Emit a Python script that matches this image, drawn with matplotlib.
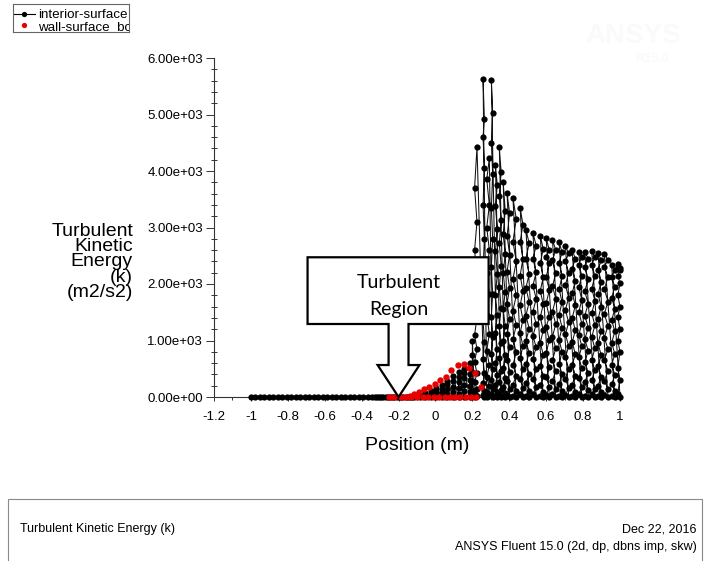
import matplotlib
matplotlib.use("Agg")
import matplotlib.pyplot as plt
from matplotlib.patches import Polygon, Rectangle
from matplotlib.ticker import MultipleLocator

plt.rcParams['font.family'] = ['Liberation Sans', 'DejaVu Sans']

# ---------------- data ----------------
# interior-surface: upstream faces, all at k = 0
upstream_x = [-1.0, -0.976, -0.951, -0.927, -0.903, -0.878, -0.854, -0.830, -0.805, -0.781,
              -0.757, -0.732, -0.708, -0.684, -0.659, -0.635, -0.611, -0.586, -0.562, -0.538,
              -0.514, -0.489, -0.465, -0.441, -0.416, -0.392, -0.368, -0.345, -0.330, -0.318,
              -0.306, -0.294, -0.282, -0.270, -0.258, -0.246, -0.234, -0.222, -0.210, -0.198,
              -0.186, -0.174, -0.162, -0.150, -0.138, -0.128]
upstream_k = [0, 0, 0, 0, 0, 0, 0, 0, 0, 0, 0, 0, 0, 0, 0, 0, 0, 0, 0, 0, 0, 0, 0,
              0, 0, 0, 0, 0, 0, 0, 0, 0, 0, 0, 0, 0, 0, 0, 0, 0, 0, 0, 0, 0, 0, 0]

# interior-surface: cell columns, each walked bottom to top; consecutive faces
# alternate between the two face positions col_xb / col_xa
col_xa = [-0.115, -0.085, -0.055, -0.025, 0.005, 0.035, 0.065, 0.095, 0.125, 0.155, 0.185, 0.200,
          0.225, 0.258, 0.292, 0.303, 0.325, 0.346, 0.367, 0.388, 0.420, 0.459, 0.490, 0.528,
          0.568, 0.600, 0.634, 0.670, 0.704, 0.741, 0.777, 0.809, 0.847, 0.881, 0.915, 0.955, 0.988]
col_xb = [-0.115, -0.085, -0.055, -0.025, 0.005, 0.035, 0.065, 0.095, 0.125, 0.155, 0.185, 0.200,
          0.212, 0.265, 0.278, 0.310, 0.335, 0.356, 0.378, 0.402, 0.438, 0.474, 0.508, 0.546,
          0.584, 0.617, 0.652, 0.686, 0.722, 0.758, 0.793, 0.828, 0.864, 0.898, 0.935, 0.972, 1.000]
col_k = [
    [0, 20],
    [0, 35],
    [0, 30, 70],
    [0, 55, 115],
    [0, 40, 110, 165],
    [0, 70, 150, 215],
    [0, 55, 140, 230, 290],
    [0, 90, 180, 280, 380],
    [0, 60, 160, 260, 350, 450],
    [0, 110, 210, 330, 420, 500],
    [0, 80, 190, 300, 410, 600],
    [0, 130, 280, 450, 740, 1000],
    [0, 15, 60, 140, 260, 420, 620, 850, 1100, 1400, 1750, 2150, 2600, 3100, 3700, 4420],
    [0, 30, 110, 240, 430, 680, 980, 1350, 1780, 2250, 2800, 3400, 4050, 4600, 4920, 5630],
    [0, 10, 80, 190, 350, 560, 820, 1120, 1450, 1820, 2200, 2600, 3000, 3400, 3850, 4230],
    [0, 45, 150, 300, 500, 760, 1060, 1420, 1830, 2300, 2800, 3350, 3950, 4500, 5030, 5610],
    [0, 20, 95, 220, 390, 600, 850, 1130, 1450, 1800, 2180, 2580, 2980, 3380, 3750, 4100],
    [0, 35, 130, 270, 460, 690, 950, 1250, 1580, 1940, 2320, 2720, 3130, 3550, 3980, 4420],
    [0, 12, 70, 180, 330, 520, 740, 990, 1260, 1550, 1860, 2190, 2530, 2880, 3300, 3800],
    [0, 40, 140, 280, 450, 650, 880, 1120, 1380, 1650, 1930, 2220, 2520, 2850, 3250, 3610],
    [0, 18, 100, 220, 380, 570, 790, 1020, 1270, 1530, 1800, 2090, 2400, 2750, 3150, 3520],
    [0, 50, 160, 310, 490, 690, 900, 1130, 1370, 1620, 1880, 2150, 2450, 2750, 3050, 3350],
    [0, 25, 110, 240, 400, 580, 780, 990, 1210, 1440, 1680, 1930, 2180, 2450, 2720, 2960],
    [0, 45, 170, 320, 490, 680, 880, 1080, 1290, 1510, 1740, 1970, 2210, 2450, 2680, 2900],
    [0, 15, 90, 210, 370, 550, 750, 960, 1180, 1410, 1640, 1880, 2120, 2370, 2620, 2855],
    [0, 35, 180, 350, 530, 780, 1010, 1240, 1420, 1660, 1890, 2120, 2370, 2480, 2600, 2810],
    [0, 55, 140, 290, 460, 650, 860, 1070, 1290, 1510, 1740, 1960, 2190, 2420, 2600, 2780],
    [0, 20, 100, 230, 400, 590, 800, 1010, 1230, 1450, 1680, 1910, 2140, 2370, 2560, 2745],
    [0, 40, 160, 320, 500, 700, 900, 1110, 1320, 1540, 1760, 1980, 2200, 2400, 2540, 2667],
    [0, 15, 90, 220, 380, 560, 760, 970, 1180, 1400, 1620, 1840, 2060, 2270, 2450, 2600],
    [0, 50, 170, 330, 510, 700, 900, 1100, 1300, 1510, 1720, 1940, 2150, 2340, 2480, 2570],
    [0, 25, 120, 260, 430, 620, 820, 1020, 1230, 1440, 1650, 1870, 2090, 2300, 2450, 2565],
    [0, 45, 150, 300, 470, 660, 860, 1060, 1270, 1480, 1700, 1920, 2140, 2340, 2480, 2580],
    [0, 10, 80, 200, 360, 540, 740, 950, 1160, 1380, 1600, 1820, 2040, 2250, 2420, 2550],
    [0, 35, 140, 290, 460, 650, 850, 1050, 1260, 1470, 1690, 1910, 2120, 2300, 2430, 2535],
    [0, 20, 100, 230, 390, 570, 760, 960, 1160, 1360, 1560, 1760, 1950, 2120, 2250, 2330],
    [0, 60, 300, 520, 800, 1000, 1200, 1420, 1600, 1800, 2010, 2150, 2250, 2300, 2280, 2350],
]

# wall-surface faces
wall_x = [-0.252, -0.225, -0.189, -0.158, -0.130, -0.099, -0.069, -0.040, -0.009, 0.018,
          0.051, 0.081, 0.108, 0.135, 0.168, 0.195, 0.220,
          -0.140, -0.115, -0.090, -0.060, -0.033, -0.005, 0.025, 0.055, 0.085, 0.120,
          0.152, 0.182, 0.215, 0.245]
wall_k = [0, 0, 0, 0, 0, 0, 0, 0, 0, 0, 0, 0, 0, 0, 0, 0, 0,
          20, 50, 95, 140, 185, 235, 295, 360, 470, 566,
          584, 515, 420, 182]

x_ticks = [-1.2, -1.0, -0.8, -0.6, -0.4, -0.2, 0.0, 0.2, 0.4, 0.6, 0.8, 1.0]
x_tick_labels = ["-1.2", "-1", "-0.8", "-0.6", "-0.4", "-0.2", "0", "0.2", "0.4", "0.6", "0.8", "1"]
y_ticks = [0, 1000, 2000, 3000, 4000, 5000, 6000]
y_tick_labels = ["0.00e+00", "1.00e+03", "2.00e+03", "3.00e+03", "4.00e+03", "5.00e+03", "6.00e+03"]

# ---------------- assemble the interior-surface polyline ----------------
ix = list(upstream_x)
ik = list(upstream_k)
for xa, xb, ks in zip(col_xa, col_xb, col_k):
    for j, k in enumerate(ks):
        ix.append(xb if j % 2 == 0 else xa)
        ik.append(k)

# ---------------- figure ----------------
W, H = 710, 561
fig = plt.figure(figsize=(W / 100, H / 100), dpi=100)
fig.patch.set_facecolor('white')

ax = fig.add_axes([214 / W, 1 - 397 / H, (620 - 214) / W, (397 - 58) / H])
ax.set_xlim(-1.2, 1.0)
ax.set_ylim(0, 6000)

ax.plot(ix, ik, '-', color='#111111', lw=0.75, marker='o', ms=4.5,
        mfc='black', mec='black', mew=0, clip_on=False, zorder=3)
ax.plot(wall_x, wall_k, 'o', color='#e60000', ms=4.6, mew=0, clip_on=False, zorder=4)

for s in ('top', 'right'):
    ax.spines[s].set_visible(False)
for s in ('left', 'bottom'):
    ax.spines[s].set_color('#333333')
    ax.spines[s].set_linewidth(0.8)

ax.set_xticks(x_ticks)
ax.set_xticklabels(x_tick_labels)
ax.set_yticks(y_ticks)
ax.set_yticklabels(y_tick_labels)
ax.xaxis.set_minor_locator(MultipleLocator(0.1))
ax.yaxis.set_minor_locator(MultipleLocator(200))
ax.tick_params(axis='x', which='major', direction='out', length=3, width=0.7,
               pad=7, labelsize=9.5, color='#333333')
ax.tick_params(axis='x', which='minor', direction='out', length=2.5, width=0.7, color='#333333')
ax.tick_params(axis='y', which='major', direction='out', length=6, width=0.7,
               pad=2, labelsize=9.5, color='#333333')
ax.tick_params(axis='y', which='minor', direction='inout', length=4, width=0.7, color='#333333')

# axis titles
fig.text(133 / W, 1 - 262 / H, "Turbulent\nKinetic\nEnergy\n(k)\n(m2/s2)",
         ha='right', va='center', ma='right', fontsize=14, linespacing=0.88)
fig.text(417 / W, 1 - 446 / H, "Position (m)", ha='center', va='center', fontsize=14)

# down-arrow callout marking the turbulent region
tip_x, tip_k = -0.2, 0.0
box_l, box_r, box_t, box_b = -0.693, 0.288, 2473, 1292
shaft_hw, head_hw, head_top = 0.054, 0.1135, 566
callout = Polygon([(box_l, box_t), (box_r, box_t), (box_r, box_b),
                   (tip_x + shaft_hw, box_b), (tip_x + shaft_hw, head_top),
                   (tip_x + head_hw, head_top), (tip_x, tip_k),
                   (tip_x - head_hw, head_top), (tip_x - shaft_hw, head_top),
                   (tip_x - shaft_hw, box_b), (box_l, box_b)],
                  closed=True, facecolor='white', edgecolor='black', lw=1.6,
                  joinstyle='miter', zorder=6, clip_on=False)
ax.add_patch(callout)
ax.text(tip_x, 2030, "Turbulent", ha='center', va='center', fontsize=14,
        family=['Lato', 'DejaVu Sans'], zorder=7)
ax.text(tip_x, 1552, "Region", ha='center', va='center', fontsize=14,
        family=['Lato', 'DejaVu Sans'], zorder=7)

# legend box (narrow, entries cut at its right edge)
lw_px, lh_px = 116.3, 28
lax = fig.add_axes([12.7 / W, 1 - 32 / H, lw_px / W, lh_px / H])
lax.set_xlim(0, lw_px)
lax.set_ylim(lh_px, 0)
lax.set_xticks([])
lax.set_yticks([])
for s in lax.spines.values():
    s.set_color('#666666')
    s.set_linewidth(0.8)
lax.plot([0.5, 22.5], [10, 10], color='black', lw=0.8)
lax.plot([11.3], [10], 'o', color='black', ms=3.8, mew=0)
lax.plot([11.3], [21], 'o', color='#e60000', ms=3.8, mew=0)
t1 = lax.text(25.3, 13.8, "interior-surface", va='baseline', fontsize=9.6, clip_on=True)
t2 = lax.text(25.3, 27.0, "wall-surface  bottom", va='baseline', fontsize=9.6, clip_on=True)
for t in (t1, t2):
    t.set_clip_box(lax.bbox)

# faint product watermark
fig.text(633 / W, 1 - 36 / H, "ANSYS", ha='center', va='center', fontsize=20,
         fontweight='bold', color='#fafafa')
fig.text(652 / W, 1 - 59 / H, "R15.0", ha='center', va='center', fontsize=9,
         fontweight='bold', color='#fafafa')

# footer panel
fig.add_artist(Rectangle((8 / W, -0.05), (702 - 8) / W, 0.05 + (1 - 499 / H),
                         transform=fig.transFigure, fill=False,
                         edgecolor='#8a8a8a', lw=0.8))
fig.text(20 / W, 1 - 529 / H, "Turbulent Kinetic Energy (k)", ha='left', va='center', fontsize=9)
fig.text(697 / W, 1 - 529 / H, "Dec 22, 2016", ha='right', va='center', fontsize=9)
fig.text(697 / W, 1 - 547 / H, "ANSYS Fluent 15.0 (2d, dp, dbns imp, skw)",
         ha='right', va='center', fontsize=9)

fig.savefig("out.png", dpi=100, facecolor='white')
